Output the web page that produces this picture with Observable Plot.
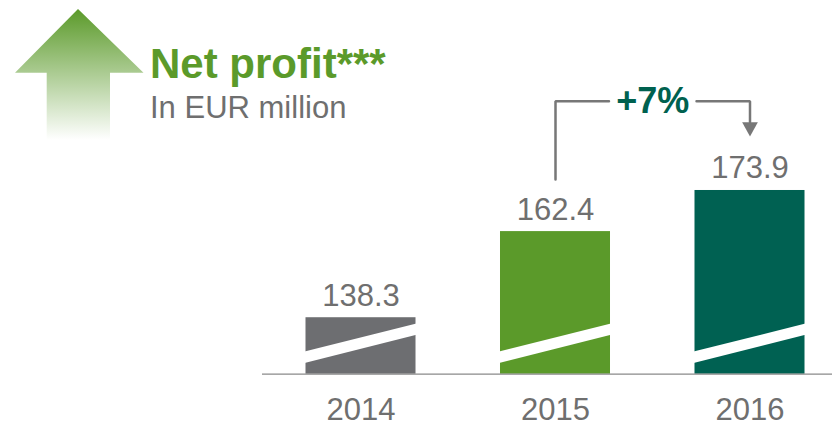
<!DOCTYPE html>
<html>
<head>
<meta charset="utf-8">
<script src="https://cdn.jsdelivr.net/npm/d3@7"></script>
<script src="https://cdn.jsdelivr.net/npm/@observablehq/plot@0.6"></script>
<style>
  html, body { margin: 0; padding: 0; background: #fff; }
  #wrap { position: relative; width: 832px; height: 426px; overflow: hidden; font-family: "Liberation Sans", Arial, sans-serif; }
  #overlay { position: absolute; left: 0; top: 0; pointer-events: none; }
</style>
</head>
<body>
<div id="wrap">
  <svg id="overlay" width="420" height="150" font-family="Liberation Sans, Arial, sans-serif">
    <defs>
      <linearGradient id="arrowGrad" x1="0" y1="0" x2="0" y2="1">
        <stop offset="0" stop-color="#5b9a2a" stop-opacity="1"/>
        <stop offset="0.97" stop-color="#5b9a2a" stop-opacity="0"/>
      </linearGradient>
    </defs>
    <polygon points="78,9 143.5,72.7 110,72.7 110,144 46.7,144 46.7,72.7 15,72.7" fill="url(#arrowGrad)"/>
    <text x="150" y="77.7" font-size="42" font-weight="bold" fill="#5b9a2a">Net profit***</text>
    <text x="150" y="117.7" font-size="31" fill="#6f6f6f">In EUR million</text>
  </svg>
</div>
<script>
// ---- data ----
const years = [2014, 2015, 2016];
const values = [138.3, 162.4, 173.9];
const valueLabels = ["138.3", "162.4", "173.9"];
const barColors = ["#6d6e71", "#5b9a2a", "#006152"];
const changeLabel = "+7%";
const changeFrom = 2015;
const changeTo = 2016;

// broken-axis settings (value at the baseline, break stripe edges in value units)
const axisBase = 122.5;
const breakLower = [125.4, 133.5]; // lower edge of stripe at left / right side of bar
const breakUpper = [128.65, 136.6]; // upper edge of stripe at left / right side of bar

// ---- build tables ----
const data = years.map((year, i) => ({ year, value: values[i], label: valueLabels[i], color: barColors[i] }));
const halfBar = 0.2828; // half bar width in year units
const stripe = years.flatMap(year => [
  { year, x: year - halfBar - 0.01, lo: breakLower[0], hi: breakUpper[0] },
  { year, x: year + halfBar + 0.01, lo: breakLower[1], hi: breakUpper[1] }
]);

// bracket annotation (value units)
const bracketY = 198.9;
const bracketStart = 177;
const arrowHeadTop = 193;
const arrowTip = 189;
const mid = (changeFrom + changeTo) / 2;
const gap = 0.225;
const leftSeg = [[changeFrom, bracketStart], [changeFrom, bracketY], [mid - gap, bracketY]];
const rightSeg = [[mid + gap, bracketY], [changeTo, bracketY], [changeTo, arrowHeadTop]];
const headHalf = 0.0404;
const head = [[changeTo - headHalf, arrowHeadTop], [changeTo + headHalf, arrowHeadTop], [changeTo, arrowTip]];

const textGray = "#6f6f6f";
const lineGray = "#777777";

const chart = Plot.plot({
  width: 832,
  height: 426,
  marginLeft: 262,
  marginRight: 0,
  marginTop: 0,
  marginBottom: 52.3,
  style: { fontFamily: "Liberation Sans, Arial, sans-serif", background: "transparent" },
  x: { type: "linear", domain: [2014, 2016], range: [360.5, 749.5], axis: null },
  y: { type: "linear", domain: [axisBase, 200], range: [373.7, 96.7], axis: null },
  marks: [
    Plot.rectY(data, { x1: d => d.year - halfBar, x2: d => d.year + halfBar, y1: () => axisBase, y2: "value", fill: "color" }),
    Plot.areaY(stripe, { x: "x", y1: "lo", y2: "hi", z: "year", fill: "white", curve: "linear" }),
    Plot.ruleY([axisBase], { stroke: "#8a8a8a", strokeWidth: 1.3 }),
    Plot.text(data, { x: "year", y: "value", text: "label", dy: -12, lineAnchor: "bottom", fontSize: 31, fill: textGray }),
    Plot.text(data, { x: "year", text: d => String(d.year), frameAnchor: "bottom", lineAnchor: "top", dy: 24, fontSize: 31, fill: textGray }),
    Plot.line(leftSeg, { x: d => d[0], y: d => d[1], stroke: lineGray, strokeWidth: 2.5, strokeLinejoin: "miter", curve: "linear" }),
    Plot.line(rightSeg, { x: d => d[0], y: d => d[1], stroke: lineGray, strokeWidth: 2.5, strokeLinejoin: "miter", curve: "linear" }),
    Plot.line(head, { x: d => d[0], y: d => d[1], fill: lineGray, stroke: "none", curve: "linear" }),
    Plot.text([changeLabel], { x: () => mid, y: () => bracketY, text: d => d, fontSize: 36, fontWeight: "bold", fill: "#00614f", lineAnchor: "middle" })
  ]
});

const wrap = document.getElementById("wrap");
wrap.insertBefore(chart, wrap.firstChild);
</script>
</body>
</html>
